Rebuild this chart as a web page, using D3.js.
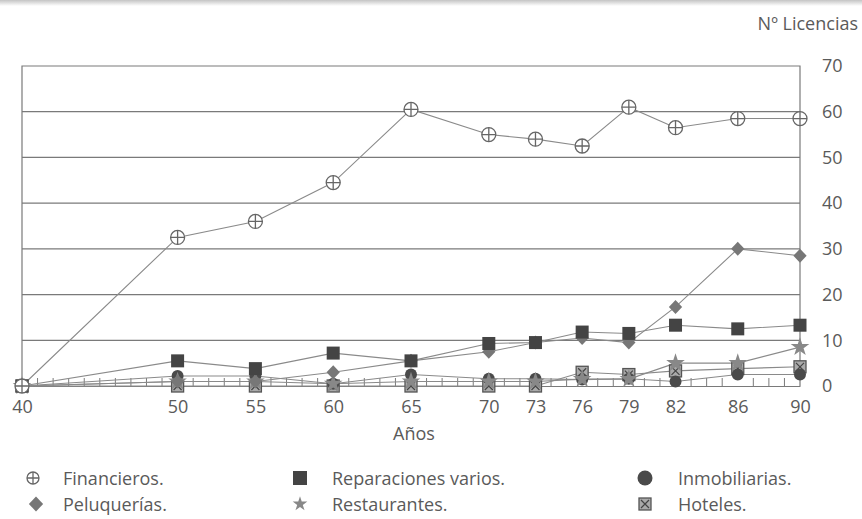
<!DOCTYPE html>
<html><head><meta charset="utf-8">
<script src="https://cdn.jsdelivr.net/npm/d3@7/dist/d3.min.js"></script>
<style>
html,body{margin:0;padding:0;background:#fff;}
text{font-family:"Open Sans","Lato",sans-serif;fill:#5a5a5a;}
</style></head>
<body>
<svg id="c" width="862" height="519"></svg>
<script>
const years = [40, 50, 55, 60, 65, 70, 73, 76, 79, 82, 86, 90];
const financieros   = [0, 32.5, 36, 44.5, 60.5, 55, 54, 52.5, 61, 56.5, 58.5, 58.5];
const reparaciones  = [0, 5.5, 3.8, 7.2, 5.5, 9.3, 9.5, 11.8, 11.5, 13.3, 12.5, 13.3];
const inmobiliarias = [0, 2.2, 2.2, 0.5, 2.5, 1.6, 1.6, 1.4, 1.6, 1, 2.5, 2.5];
const peluquerias   = [0, 1, 1, 3, 5.5, 7.5, 9.5, 10.5, 9.5, 17.3, 30, 28.5];
const restaurantes  = [0, 1, 1, 0.5, 1, 1, 1, 1.5, 1.5, 5, 5, 8.5];
const hoteles       = [0, 0, 0, 0, 0, 0, 0, 3, 2.5, 3.3, 3.8, 4.2];
const xTicks = [40, 50, 55, 60, 65, 70, 73, 76, 79, 82, 86, 90];
const yTicks = [0, 10, 20, 30, 40, 50, 60, 70];
const seriesNames = ["Financieros.", "Reparaciones varios.", "Inmobiliarias.", "Peluquerías.", "Restaurantes.", "Hoteles."];

const svg = d3.select("#c");
const L = 22, R = 800, T = 66, B = 386;
const x = d3.scaleLinear().domain([40, 90]).range([L, R]);
const y = d3.scaleLinear().domain([0, 70]).range([B, T]);

// scan band at top
const grad = svg.append("defs").append("linearGradient").attr("id","g").attr("x1",0).attr("y1",0).attr("x2",0).attr("y2",1);
grad.append("stop").attr("offset","0").attr("stop-color","#c4c4c4");
grad.append("stop").attr("offset","1").attr("stop-color","#fff");
svg.append("rect").attr("x",0).attr("y",0).attr("width",862).attr("height",6).attr("fill","url(#g)");

const gc = "#7a7a7a";
// gridlines
svg.append("g").selectAll("line").data(yTicks.filter(v=>v>0 && v<70)).join("line")
  .attr("x1", L).attr("x2", R).attr("y1", d=>y(d)).attr("y2", d=>y(d))
  .attr("stroke", gc).attr("stroke-width", 1.2);
// frame
svg.append("path").attr("d", `M${L},${B}V${T}H${R}V${B}`).attr("fill","none").attr("stroke",gc).attr("stroke-width",1.2);

// right axis
const ya = d3.axisRight(y).tickValues(yTicks).tickSize(0).tickPadding(22);
const gy = svg.append("g").attr("transform", `translate(${R},0)`).call(ya);
gy.select(".domain").remove();
gy.selectAll("text").attr("font-size", 18).style("fill","#5a5a5a").attr("font-family",'"Open Sans",sans-serif');

// bottom axis with yearly minor ticks
const minor = d3.range(41, 90).filter(v => !xTicks.includes(v));
svg.append("g").selectAll("line").data(minor).join("line")
  .attr("x1", d=>x(d)).attr("x2", d=>x(d)).attr("y1", B).attr("y2", B-8)
  .attr("stroke", gc).attr("stroke-width", 1);
const xa = d3.axisBottom(x).tickValues(xTicks).tickSize(0).tickPadding(14).tickFormat(d3.format("d"));
const gx = svg.append("g").attr("transform", `translate(0,${B})`).call(xa);
gx.select(".domain").attr("stroke", gc).attr("stroke-width", 1.2);
gx.selectAll("text").attr("font-size", 18).style("fill","#5a5a5a").attr("font-family",'"Open Sans",sans-serif');

svg.append("text").attr("x", 414).attr("y", 440).attr("text-anchor","middle").attr("font-size",18).text("Años");
svg.append("text").attr("x", 858).attr("y", 30).attr("text-anchor","end").attr("font-size",18).text("Nº Licencias");

// marker drawers
function mFin(g, cx, cy, r) {
  g.append("circle").attr("cx",cx).attr("cy",cy).attr("r",r).attr("fill","#fff").attr("stroke","#666").attr("stroke-width",1.3);
  g.append("path").attr("d",`M${cx-r},${cy}H${cx+r}M${cx},${cy-r}V${cy+r}`).attr("stroke","#666").attr("stroke-width",1.3);
}
function mSq(g, cx, cy, s) {
  g.append("rect").attr("x",cx-s/2).attr("y",cy-s/2).attr("width",s).attr("height",s).attr("fill","#444");
}
function mCirc(g, cx, cy, r) {
  g.append("circle").attr("cx",cx).attr("cy",cy).attr("r",r).attr("fill","#4a4a4a");
}
function mDia(g, cx, cy, r) {
  g.append("path").attr("d",`M${cx},${cy-r}L${cx+r*0.95},${cy}L${cx},${cy+r}L${cx-r*0.95},${cy}Z`).attr("fill","#777");
}
function mStar(g, cx, cy, r) {
  g.append("path").attr("transform",`translate(${cx},${cy})`)
    .attr("d", d3.symbol().type(d3.symbolStar).size(r*r*2.2)()).attr("fill","#888");
}
function mHot(g, cx, cy, s) {
  const h = s/2;
  g.append("rect").attr("x",cx-h).attr("y",cy-h).attr("width",s).attr("height",s).attr("fill","#aaa").attr("stroke","#555").attr("stroke-width",1.3);
  g.append("path").attr("d",`M${cx-h+2},${cy-h+2}L${cx+h-2},${cy+h-2}M${cx+h-2},${cy-h+2}L${cx-h+2},${cy+h-2}`).attr("stroke","#444").attr("stroke-width",1.2);
}

const series = [
  {v: hoteles, m: (g,a,b)=>mHot(g,a,b,12)},
  {v: inmobiliarias, m: (g,a,b)=>mCirc(g,a,b,6)},
  {v: restaurantes, m: (g,a,b)=>mStar(g,a,b,7)},
  {v: peluquerias, m: (g,a,b)=>mDia(g,a,b,7)},
  {v: reparaciones, m: (g,a,b)=>mSq(g,a,b,13)},
  {v: financieros, m: (g,a,b)=>mFin(g,a,b,7)},
];
const line = d3.line().x((d,i)=>x(years[i])).y(d=>y(d));
const lg = svg.append("g");
series.forEach(s => {
  lg.append("path").attr("d", line(s.v)).attr("fill","none").attr("stroke","#8a8a8a").attr("stroke-width",1.1);
});
const mg = svg.append("g");
series.forEach(s => {
  s.v.forEach((d,i) => s.m(mg, x(years[i]), y(d)));
});

// legend
const leg = svg.append("g");
const legItems = [
  {n: seriesNames[0], sx: 33, tx: 63, yy: 485, m: (g,a,b)=>mFin(g,a,b,6)},
  {n: seriesNames[1], sx: 300, tx: 332, yy: 485, m: (g,a,b)=>mSq(g,a,b,14)},
  {n: seriesNames[2], sx: 645, tx: 678, yy: 485, m: (g,a,b)=>mCirc(g,a,b,7.5)},
  {n: seriesNames[3], sx: 36, tx: 63, yy: 511, m: (g,a,b)=>mDia(g,a,b,7.5)},
  {n: seriesNames[4], sx: 300, tx: 332, yy: 511, m: (g,a,b)=>mStar(g,a,b,5.5)},
  {n: seriesNames[5], sx: 645, tx: 678, yy: 511, m: (g,a,b)=>mHot(g,a,b,12)},
];
legItems.forEach(it => {
  it.m(leg, it.sx, it.yy - 7);
  leg.append("text").attr("x", it.tx).attr("y", it.yy).attr("font-size", 18).text(it.n);
});
</script>
</body></html>
